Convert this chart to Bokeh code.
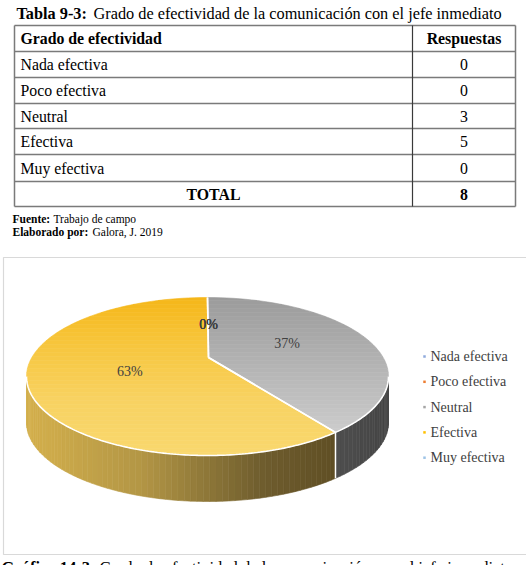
import math
from bokeh.plotting import figure
from bokeh.models import Range1d
from bokeh.core.properties import value
from bokeh.embed import file_html
from bokeh.resources import INLINE

# ---------------- data ----------------
categorias = ["Nada efectiva", "Poco efectiva", "Neutral", "Efectiva", "Muy efectiva"]
respuestas = [0, 0, 3, 5, 0]
total = 8
etiquetas_pct = ["0%", "0%", "37%", "63%", "0%"]
colores_leyenda = ["#8faadc", "#ed7d31", "#a5a5a5", "#ffc000", "#9dc3e6"]

titulo_tabla = ("Tabla 9-3:", "Grado de efectividad de la comunicación con el jefe inmediato")
encabezados = ["Grado de efectividad", "Respuestas"]
fuente = ("Fuente:", "Trabajo de campo")
elaborado = ("Elaborado por:", "Galora, J. 2019")
titulo_grafico = ("Gráfico 14-3:", "Grado de efectividad de la comunicación con el jefe inmediato")

SERIF = value("Liberation Serif")

p = figure(width=526, height=565, x_range=Range1d(0, 526), y_range=Range1d(565, 0),
           output_backend="svg", toolbar_location=None, min_border=0)
p.axis.visible = False
p.grid.visible = False
p.outline_line_color = None
p.background_fill_color = "white"
p.border_fill_color = "white"


def txt(x, y, s, size, bold=False, align="left", color="#000000", baseline="middle"):
    p.text(x=[x], y=[y], text=[s], text_font=SERIF, text_font_size=value(f"{size}px"),
           text_font_style="bold" if bold else "normal", text_align=align,
           text_baseline=baseline, text_color=color)


# ---------------- table ----------------
txt(16, 13, titulo_tabla[0], 16.3, bold=True)
txt(93, 13, titulo_tabla[1], 16.3)

L, R, C = 14, 515, 412
row_lines = [25, 51, 77, 103, 128, 154, 181, 206]
p.multi_line(xs=[[L, R] for _ in row_lines], ys=[[y, y] for y in row_lines],
             line_color="#7a7a7a", line_width=1.5)
p.multi_line(xs=[[L, L], [R, R]], ys=[[25, 206], [25, 206]], line_color="#7a7a7a", line_width=1.5)
p.line(x=[C, C], y=[25, 206], line_color="#3a3a3a", line_width=1.2)

centers = [(row_lines[i] + row_lines[i + 1]) / 2 for i in range(len(row_lines) - 1)]
txt(20, centers[0], encabezados[0], 15.8, bold=True)
txt((C + R) / 2, centers[0], encabezados[1], 15.8, bold=True, align="center")
for i, (c, v) in enumerate(zip(categorias, respuestas)):
    txt(20, centers[i + 1], c, 15.8)
    txt((C + R) / 2, centers[i + 1], str(v), 15.8, align="center")
txt((L + C) / 2, centers[-1], "TOTAL", 15.8, bold=True, align="center")
txt((C + R) / 2, centers[-1], str(total), 15.8, bold=True, align="center")

txt(12, 218, fuente[0], 11.5, bold=True)
txt(53, 218, fuente[1], 11.5)
txt(12, 231, elaborado[0], 11.5, bold=True)
txt(92, 231, elaborado[1], 11.5)

# ---------------- chart box ----------------
p.quad(left=[3], right=[527], top=[257], bottom=[554], fill_color="white",
       line_color="#d9d9d9", line_width=1.2)

# ---------------- 3D pie ----------------
cx, cy, rx, ry = 207, 376, 181, 79
vx, vy = 208, 357
depth = 46


def ept(theta, dy=0.0):
    t = math.radians(theta)
    return (cx + rx * math.sin(t), cy - ry * math.cos(t) + dy)


def hexc(h):
    return tuple(int(h[i:i + 2], 16) for i in (1, 3, 5))


def interp(stops, v):
    if v <= stops[0][0]:
        return stops[0][1]
    for (a, ca), (b, cb) in zip(stops, stops[1:]):
        if v <= b:
            f = (v - a) / (b - a)
            c1, c2 = hexc(ca), hexc(cb)
            return "#%02x%02x%02x" % tuple(round(c1[k] + (c2[k] - c1[k]) * f) for k in range(3))
    return stops[-1][1]


def clip_half(pts, keep, yc):
    out = []
    for i in range(len(pts)):
        cur, prev = pts[i], pts[i - 1]
        def inter(a, b):
            return (a[0] + (b[0] - a[0]) * (yc - a[1]) / (b[1] - a[1]), yc)
        if keep(cur):
            if not keep(prev):
                out.append(inter(prev, cur))
            out.append(cur)
        elif keep(prev):
            out.append(inter(prev, cur))
    return out


def clip_band(poly, y0, y1):
    pts = clip_half(poly, lambda q: q[1] >= y0, y0)
    if pts:
        pts = clip_half(pts, lambda q: q[1] <= y1, y1)
    return pts


top_stops = {
    "#a5a5a5": [(297, "#9b9b9b"), (430, "#cbcbcb")],
    "#ffc000": [(297, "#f5b618"), (340, "#f7c53a"), (400, "#f8d262"), (456, "#f9d86e")],
}
side_stops = {
    "#a5a5a5": [(300, "#555555"), (390, "#444444")],
    "#ffc000": [(27, "#d4b04c"), (140, "#b39645"), (260, "#6f5d2e"), (360, "#5b4a21")],
}
slice_colors = ["#4472c4", "#ed7d31", "#a5a5a5", "#ffc000", "#5b9bd5"]

angles = []
acc = 0.0
for v in respuestas:
    a0 = acc / total * 360
    acc += v
    a1 = acc / total * 360
    angles.append((a0, a1))

# sides (front half: 90..270 deg clockwise from top)
sxs, sys_, scs = [], [], []
for (a0, a1), col, v in zip(angles, slice_colors, respuestas):
    if v == 0:
        continue
    s0, s1 = max(a0, 90), min(a1, 270)
    if s1 <= s0:
        continue
    n = max(2, int((s1 - s0) / 2))
    for k in range(n):
        t0 = s0 + (s1 - s0) * k / n
        t1 = s0 + (s1 - s0) * (k + 1) / n
        pts = [ept(t0), ept(t1), ept(t1, depth), ept(t0, depth)]
        xm = (pts[0][0] + pts[1][0]) / 2
        c = interp(side_stops[col], xm)
        sxs.append([q[0] for q in pts])
        sys_.append([q[1] for q in pts])
        scs.append(c)
p.patches(xs=sxs, ys=sys_, fill_color=scs, line_color=scs, line_width=0.6)
for (a0, a1), v in zip(angles, respuestas):
    if v and 90 < a1 < 270:
        q0, q1 = ept(a1), ept(a1, depth)
        p.line(x=[q0[0], q1[0]], y=[q0[1], q1[1]], line_color="white", line_width=1.5)

# top face with vertical gradient
txs, tys, tcs = [], [], []
for (a0, a1), col, v in zip(angles, slice_colors, respuestas):
    if v == 0:
        continue
    n = max(2, int((a1 - a0) / 2))
    poly = [(vx, vy)] + [ept(a0 + (a1 - a0) * k / n) for k in range(n + 1)]
    y = 296.0
    while y < 460:
        band = clip_band(poly, y, y + 4)
        if len(band) >= 3:
            txs.append([q[0] for q in band])
            tys.append([q[1] for q in band])
            tcs.append(interp(top_stops[col], y + 2))
        y += 4
p.patches(xs=txs, ys=tys, fill_color=tcs, line_color=tcs, line_width=0.6)

# white edges
front = [ept(90 + k) for k in range(181)]
p.line(x=[q[0] for q in front], y=[q[1] for q in front], line_color="white", line_width=1.6)
for (a0, a1), v in zip(angles, respuestas):
    if v:
        for a in (a0, a1):
            q = ept(a)
            p.line(x=[vx, q[0]], y=[vy, q[1]], line_color="white", line_width=1.6)

# data labels
for (a0, a1), lab in zip(angles, etiquetas_pct):
    m = math.radians((a0 + a1) / 2)
    f = 0.47 if a1 > a0 else 0.42
    lx = vx + f * rx * math.sin(m)
    ly = vy - f * ry * math.cos(m)
    txt(lx, ly, lab, 14, align="center", color="#404040")

# legend
for i, (c, col) in enumerate(zip(categorias, colores_leyenda)):
    yy = 356 + i * 25.3
    p.scatter(x=[424], y=[yy], size=2.5, marker="square", fill_color=col, line_color=None)
    txt(430, yy, c, 14, color="#404040")

# caption (cut by the window, as in the reference)
txt(1, 557, titulo_grafico[0], 16.5, bold=True, baseline="top")
txt(99, 557, titulo_grafico[1], 16.5, baseline="top")

open("out.html", "w").write(file_html(p, INLINE))
